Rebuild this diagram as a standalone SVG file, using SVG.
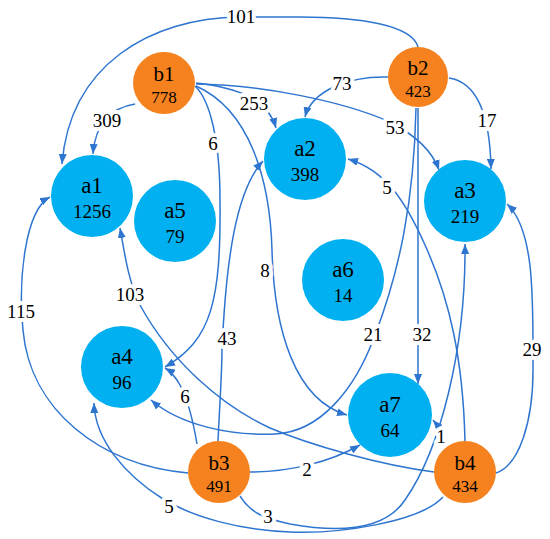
<svg xmlns="http://www.w3.org/2000/svg" width="550" height="539" viewBox="0 0 550 539" font-family="'Liberation Serif', 'DejaVu Serif', serif">
<style>
.e{fill:none;stroke:#2E75D0;stroke-width:1.5;marker-end:url(#ah)}
.a{fill:#00B0F0}
.b{fill:#F5821F}
text{font-family:'Liberation Serif','DejaVu Serif',serif;fill:#000;text-anchor:middle}
.an{font-size:23px}
.av{font-size:19px}
.bn{font-size:21px}
.bv{font-size:17px}
.l{font-size:19px;paint-order:stroke;stroke:#fff;stroke-width:8px;stroke-linejoin:round}
</style>
<defs>
<marker id="ah" viewBox="0 0 10 8" refX="10" refY="4" markerWidth="10" markerHeight="8" markerUnits="userSpaceOnUse" orient="auto">
<path d="M0,0 L10,4 L0,8 z" fill="#2E75D0"/>
</marker>
</defs>
<rect width="550" height="539" fill="#fff"/>
<g id="connectors">
<path class="e" d="M418,47 C412,25 360,17 300,17 L240,17 C150,18 70,65 62,164"/>
<path class="e" d="M135,104 C110,108 95,125 93,154"/>
<path class="e" d="M196,83 C240,88 268,100 276,128"/>
<path class="e" d="M196,84 C260,85 340,100 390,122 C415,135 432,150 439,170"/>
<path class="e" d="M195,86 C210,100 220,140 220,200 C221,300 212,340 165,367"/>
<path class="e" d="M196,86 C250,110 270,180 272,250 C274,330 295,400 347,415"/>
<path class="e" d="M388,77 C350,76 312,90 305,117"/>
<path class="e" d="M449,78 C475,82 490,110 491,169"/>
<path class="e" d="M418,108 L418,384"/>
<path class="e" d="M416,108 C414,200 400,270 375,335 C355,390 320,432 275,434 C230,436 180,425 151,400"/>
<path class="e" d="M188,473 C100,465 30,410 23,330 C18,280 25,210 50,197"/>
<path class="e" d="M218,441 C220,400 222,370 222,350 C226,260 236,190 263,161"/>
<path class="e" d="M197,444 C193,420 188,400 180,385 C175,376 170,371 165,368"/>
<path class="e" d="M250,472 C290,472 330,462 360,445"/>
<path class="e" d="M240,496 C250,512 262,518 290,524 C340,533 385,530 405,500 C440,450 466,350 465,244"/>
<path class="e" d="M465,441 C463,360 450,300 425,245 C405,200 385,170 348,159"/>
<path class="e" d="M444,443 C442,435 438,426 433,420"/>
<path class="e" d="M496,473 C520,465 533,420 533,370 C533,300 535,230 507,204"/>
<path class="e" d="M434,472 C380,465 310,445 270,428 C220,405 170,360 140,305 C128,280 125,255 120,228"/>
<path class="e" d="M443,497 C420,522 340,534 290,532 C240,530 195,518 163,499 C125,475 95,440 94,403"/>
</g>
<g id="edge-labels">
<text class="l" x="241" y="23">101</text>
<text class="l" x="107" y="127">309</text>
<text class="l" x="254" y="110">253</text>
<text class="l" x="213" y="150">6</text>
<text class="l" x="342" y="90">73</text>
<text class="l" x="395" y="134">53</text>
<text class="l" x="487" y="127">17</text>
<text class="l" x="387" y="194">5</text>
<text class="l" x="265" y="277">8</text>
<text class="l" x="130" y="301">103</text>
<text class="l" x="21" y="318">115</text>
<text class="l" x="227" y="345">43</text>
<text class="l" x="185" y="403">6</text>
<text class="l" x="169" y="513">5</text>
<text class="l" x="268" y="523">3</text>
<text class="l" x="373" y="341">21</text>
<text class="l" x="422" y="341">32</text>
<text class="l" x="532" y="356">29</text>
<text class="l" x="441" y="443">1</text>
<text class="l" x="307" y="476">2</text>
</g>
<g id="a1"><circle class="a" cx="92" cy="196" r="41"/><text class="an" x="92" y="193">a1</text><text class="av" x="92" y="218">1256</text></g>
<g id="a2"><circle class="a" cx="305" cy="159" r="41"/><text class="an" x="305" y="156">a2</text><text class="av" x="305" y="181">398</text></g>
<g id="a3"><circle class="a" cx="465" cy="201" r="41"/><text class="an" x="465" y="198">a3</text><text class="av" x="465" y="223">219</text></g>
<g id="a4"><circle class="a" cx="122" cy="367" r="41"/><text class="an" x="122" y="364">a4</text><text class="av" x="122" y="389">96</text></g>
<g id="a5"><circle class="a" cx="175" cy="221" r="41"/><text class="an" x="175" y="218">a5</text><text class="av" x="175" y="243">79</text></g>
<g id="a6"><circle class="a" cx="343" cy="280" r="41"/><text class="an" x="343" y="277">a6</text><text class="av" x="343" y="302">14</text></g>
<g id="a7"><circle class="a" cx="390" cy="415" r="42"/><text class="an" x="390" y="412">a7</text><text class="av" x="390" y="437">64</text></g>
<g id="b1"><circle class="b" cx="164" cy="83" r="31"/><text class="bn" x="164" y="81">b1</text><text class="bv" x="164" y="103">778</text></g>
<g id="b2"><circle class="b" cx="418" cy="77" r="30"/><text class="bn" x="418" y="75">b2</text><text class="bv" x="418" y="97">423</text></g>
<g id="b3"><circle class="b" cx="219" cy="472" r="31"/><text class="bn" x="219" y="470">b3</text><text class="bv" x="219" y="492">491</text></g>
<g id="b4"><circle class="b" cx="465" cy="472" r="31"/><text class="bn" x="465" y="470">b4</text><text class="bv" x="465" y="492">434</text></g>
</svg>
